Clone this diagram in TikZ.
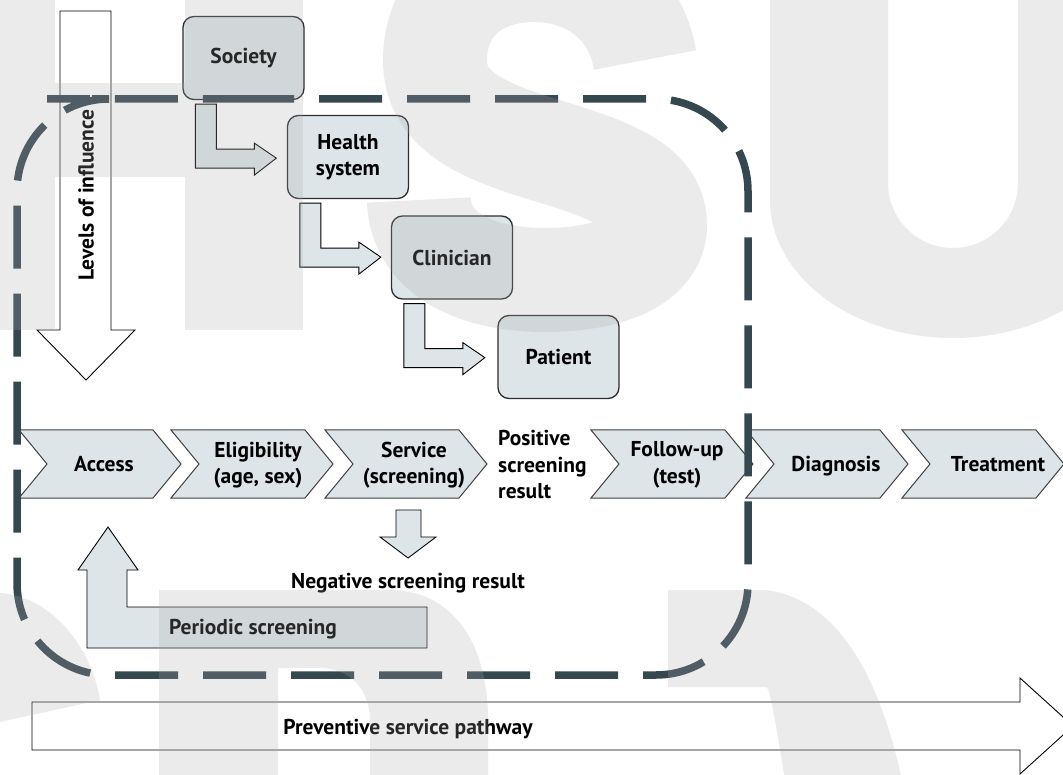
\documentclass[tikz,border=0pt]{standalone}
\usepackage{fontspec}
\setmainfont{PT Sans}
\usetikzlibrary{calc}
\definecolor{boxfill}{HTML}{DEE5E8}
\definecolor{dashcol}{HTML}{35474F}
\definecolor{wm}{HTML}{AAAAAA}
\definecolor{outl}{HTML}{2E2E2E}
\tikzset{
  lbl/.style={font=\bfseries\fontsize{21.5}{26.5}\selectfont, text=black, align=center, inner sep=0pt},
  levelbox/.style={draw=outl, line width=1.3pt, fill=boxfill, rounded corners=11pt,
    minimum width=121pt, minimum height=83pt, lbl},
  blockarrow/.style={draw=black, line width=0.9pt, fill=boxfill},
  whitearrow/.style={draw=black, line width=0.9pt, fill=white},
  chevron/.style={draw=black!75, line width=1pt, fill=boxfill},
  dashedframe/.style={draw=dashcol, line width=7.5pt, dash pattern=on 63pt off 25pt, rounded corners=92pt},
  wmark/.style={fill=wm, opacity=0.23},
}
\newcommand\chevronat[1]{\draw[chevron] (#1,430) -- ++(134,0) -- ++(28,34) -- ++(-28,34) -- ++(-134,0) -- ++(28,-34) -- cycle;}
\newcommand\elbowfrom[1]{\draw[blockarrow, shift={(#1.south west)}] (13,4) -- (34,4) -- (34,49) -- (72,49) -- (72,43) -- (94,58) -- (72,75) -- (72,68) -- (13,68) -- cycle;}
\begin{document}
\begin{tikzpicture}[x=1pt, y=-1pt, line join=miter]
\useasboundingbox (0,0) rectangle (1063,775);
\clip (0,0) rectangle (1063,775);
\fill[white] (0,0) rectangle (1063,775);

% levels of influence arrow
\draw[whitearrow] (60,11) -- (111,11) -- (111,330) -- (135,330) -- (86,380) -- (37,330) -- (60,330) -- cycle;

% level boxes
\node[levelbox] (society) at (243.5,58) {Society};
\node[levelbox] (health) at (348,157) {Health\\system};
\node[levelbox] (clinician) at (452,257.5) {Clinician};
\node[levelbox] (patient) at (558.5,357) {Patient};
\elbowfrom{society}
\elbowfrom{health}
\elbowfrom{clinician}

% chevrons
\chevronat{19}
\chevronat{171}
\chevronat{325}
\chevronat{591}
\chevronat{746}
\chevronat{902}
\node[lbl] (access) at (104,464) {Access};
\node[lbl] (elig) at (258,465) {Eligibility\\(age, sex)};
\node[lbl] (service) at (414,465) {Service\\(screening)};
\node[lbl, anchor=west, align=left] (positive) at (498,465) {Positive\\screening\\result};
\node[lbl] (follow) at (677,465) {Follow-up\\(test)};
\node[lbl] (diag) at (836,466.5) {Diagnosis};
\node[lbl] (treat) at (998,464) {Treatment};

% negative result arrow
\draw[blockarrow] (396,510) -- (421,510) -- (421,537) -- (436,537) -- (408,558) -- (380,537) -- (396,537) -- cycle;
\node[lbl] (negative) at (408,583) {Negative screening result};

% periodic screening arrow
\draw[blockarrow] (87,648) -- (427,648) -- (427,607) -- (127,607) -- (127,570) -- (138,570) -- (108,527) -- (78,570) -- (87,570) -- cycle;
\node[lbl] (periodic) at (253,629.5) {Periodic screening};

% preventive service pathway arrow
\draw[whitearrow] (32,702) -- (1020,702) -- (1020,678) -- (1073,726) -- (1020,774) -- (1020,750) -- (32,750) -- cycle;
\node[lbl] (pathway) at (408,729) {Preventive service pathway};

% dashed frame
\draw[dashedframe] (139,99) -- (748,99) -- (748,675) -- (17,675) -- (17,99) -- cycle;

\node[lbl, rotate=90] (levels) at (86,195) {Levels of influence};

% watermark letters
\fill[wmark] (-70,-80) rectangle (55,330);
\fill[wmark] (185,-80) rectangle (303,330);
\fill[wmark] (55,83) rectangle (185,177);
\draw[wm, opacity=0.23, line width=104pt] (645,60) .. controls (635,0) and (585,-30) .. (535,-30)
  .. controls (470,-30) and (435,10) .. (435,60)
  .. controls (435,110) and (480,130) .. (545,150)
  .. controls (620,172) and (655,190) .. (655,225)
  .. controls (655,260) and (610,280) .. (545,280)
  .. controls (470,280) and (420,250) .. (419,200);
\fill[wmark] (770,-20) -- (770,200) .. controls (770,276) and (852,338) .. (953,338)
  .. controls (1054,338) and (1136,276) .. (1136,200) -- (1136,-20) -- (1018,-20) -- (1018,183)
  .. controls (1018,219) and (989,248) .. (953,248) .. controls (917,248) and (888,219) .. (888,183)
  -- (888,-20) -- cycle;
\fill[wmark] (0,593) .. controls (45,595) and (90,640) .. (100,700) -- (0,722) -- cycle;
\fill[wmark] (159,590) -- (390,590) .. controls (450,590) and (488,640) .. (488,720) -- (488,780) -- (370,780) -- (370,720) .. controls (370,690) and (350,668) .. (320,668) -- (278,668) -- (278,780) -- (159,780) -- cycle;
\fill[wmark] (668,590) -- (766,590) .. controls (840,600) and (880,680) .. (902,780) -- (785,780) .. controls (775,720) and (770,687) .. (766,687) -- (668,687) -- cycle;
\end{tikzpicture}
\end{document}
